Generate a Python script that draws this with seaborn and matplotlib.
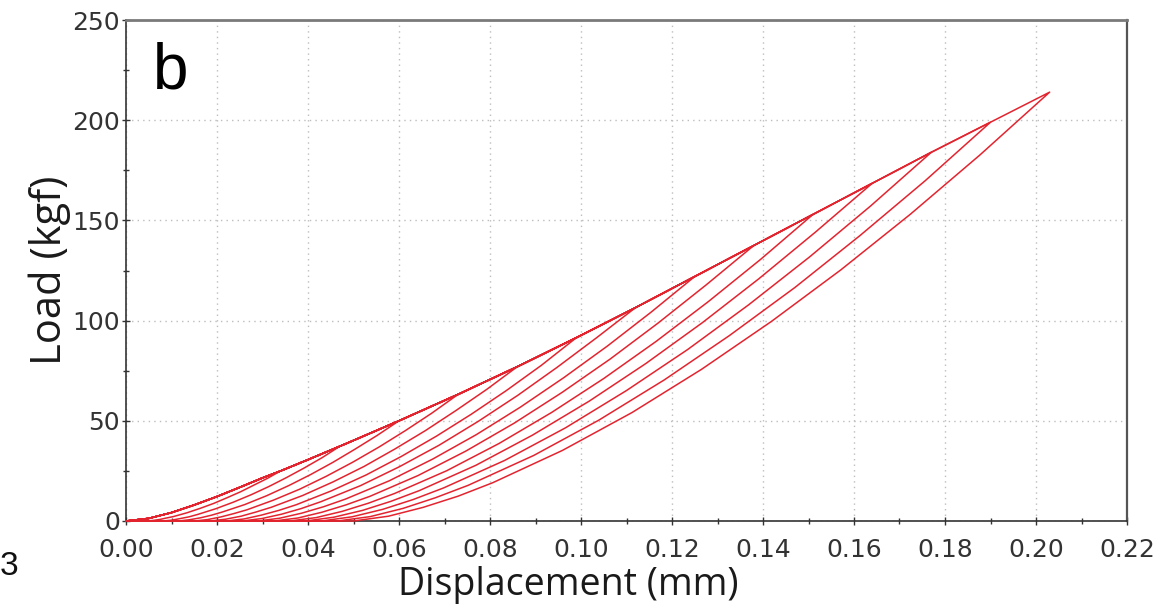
import matplotlib
matplotlib.use("Agg")
import matplotlib.pyplot as plt
from matplotlib.ticker import MultipleLocator, FormatStrFormatter
import pandas as pd
import seaborn as sns

# Loading envelope (displacement in mm, load in kgf)
envelope_disp = [0.0, 0.005, 0.01, 0.015, 0.02, 0.025, 0.03, 0.034, 0.04,
                 0.047, 0.05, 0.06, 0.073, 0.086, 0.099, 0.112, 0.125,
                 0.138, 0.151, 0.164, 0.177, 0.190, 0.203]
envelope_load = [0.0, 1.3, 4.2, 8.0, 12.2, 16.8, 21.5, 25.0, 30.6,
                 37.3, 40.2, 50.0, 63.2, 77.0, 91.5, 106.5, 122.0,
                 137.5, 153.0, 168.5, 184.0, 199.0, 214.0]

# Peak of each load cycle and the residual displacement after unloading
peak_disp = [0.203, 0.190, 0.177, 0.164, 0.151, 0.138, 0.125,
             0.112, 0.099, 0.086, 0.073, 0.060, 0.047, 0.034]
peak_load = [214.0, 199.0, 184.0, 168.5, 153.0, 137.5, 122.0,
             106.5, 91.5, 77.0, 63.2, 50.0, 37.3, 25.0]
residual_disp = [0.050, 0.0465, 0.043, 0.0395, 0.036, 0.0325, 0.029,
                 0.0255, 0.022, 0.0185, 0.015, 0.0115, 0.008, 0.0045]

# Unloading branches, listed from residual displacement up to the peak
unload_disp = [
    [0.050, 0.0577, 0.0653, 0.0730, 0.0806, 0.0959, 0.1112, 0.1265, 0.1418, 0.1571, 0.1724, 0.1877, 0.203],
    [0.0465, 0.0537, 0.0609, 0.0680, 0.0752, 0.0896, 0.1039, 0.1183, 0.1326, 0.1470, 0.1613, 0.1757, 0.190],
    [0.043, 0.0497, 0.0564, 0.0631, 0.0698, 0.0832, 0.0966, 0.110, 0.1234, 0.1368, 0.1502, 0.1636, 0.177],
    [0.0395, 0.0457, 0.0520, 0.0582, 0.0644, 0.0769, 0.0893, 0.1018, 0.1142, 0.1267, 0.1391, 0.1516, 0.164],
    [0.036, 0.0418, 0.0475, 0.0533, 0.059, 0.0705, 0.082, 0.0935, 0.105, 0.1165, 0.128, 0.1395, 0.151],
    [0.0325, 0.0378, 0.0431, 0.0483, 0.0536, 0.0642, 0.0747, 0.0853, 0.0958, 0.1064, 0.1169, 0.1275, 0.138],
    [0.029, 0.0338, 0.0386, 0.0434, 0.0482, 0.0578, 0.0674, 0.077, 0.0866, 0.0962, 0.1058, 0.1154, 0.125],
    [0.0255, 0.0298, 0.0342, 0.0385, 0.0428, 0.0515, 0.0601, 0.0688, 0.0774, 0.0861, 0.0947, 0.1034, 0.112],
    [0.022, 0.0259, 0.0297, 0.0336, 0.0374, 0.0451, 0.0528, 0.0605, 0.0682, 0.0759, 0.0836, 0.0913, 0.099],
    [0.0185, 0.0219, 0.0253, 0.0286, 0.032, 0.0388, 0.0455, 0.0523, 0.059, 0.0658, 0.0725, 0.0793, 0.086],
    [0.015, 0.0179, 0.0208, 0.0237, 0.0266, 0.0324, 0.0382, 0.044, 0.0498, 0.0556, 0.0614, 0.0672, 0.073],
    [0.0115, 0.0139, 0.0164, 0.0188, 0.0212, 0.0261, 0.0309, 0.0358, 0.0406, 0.0455, 0.0503, 0.0552, 0.060],
    [0.008, 0.0100, 0.0119, 0.0139, 0.0158, 0.0197, 0.0236, 0.0275, 0.0314, 0.0353, 0.0392, 0.0431, 0.047],
    [0.0045, 0.0060, 0.0075, 0.0089, 0.0104, 0.0134, 0.0163, 0.0193, 0.0222, 0.0252, 0.0281, 0.0311, 0.034],
]
unload_load = [
    [0, 2.4, 6.8, 12.4, 19.1, 35.2, 54.1, 75.7, 99.5, 125.3, 153.1, 182.7, 214.0],
    [0, 2.2, 6.3, 11.6, 17.8, 32.7, 50.3, 70.4, 92.5, 116.5, 142.4, 169.9, 199.0],
    [0, 2.1, 5.8, 10.7, 16.5, 30.2, 46.5, 65.1, 85.5, 107.8, 131.7, 157.1, 184.0],
    [0, 1.9, 5.3, 9.8, 15.1, 27.8, 42.8, 59.8, 78.5, 99.0, 120.9, 144.3, 168.5],
    [0, 1.7, 4.8, 8.9, 13.7, 25.1, 38.7, 54.1, 71.1, 89.6, 109.5, 130.6, 153.0],
    [0, 1.5, 4.4, 8.0, 12.3, 22.7, 34.9, 48.8, 64.1, 80.8, 98.7, 117.8, 137.5],
    [0, 1.4, 3.9, 7.1, 10.9, 20.0, 30.9, 43.1, 56.7, 71.5, 87.3, 104.2, 122.0],
    [0, 1.2, 3.4, 6.2, 9.6, 17.6, 27.1, 37.8, 49.7, 62.7, 76.6, 91.4, 106.5],
    [0, 1.0, 2.9, 5.3, 8.1, 15.0, 23.0, 32.2, 42.3, 53.3, 65.1, 77.7, 91.5],
    [0, 0.9, 2.4, 4.5, 6.9, 12.7, 19.5, 27.2, 35.8, 45.1, 55.1, 65.7, 77.0],
    [0, 0.7, 2.0, 3.7, 5.6, 10.4, 15.9, 22.3, 29.3, 36.9, 45.1, 53.8, 63.2],
    [0, 0.6, 1.6, 2.9, 4.5, 8.2, 12.6, 17.7, 23.2, 29.3, 35.8, 42.7, 50.0],
    [0, 0.4, 1.2, 2.1, 3.3, 6.1, 9.4, 13.1, 17.2, 21.7, 26.5, 31.6, 37.3],
    [0, 0.3, 0.8, 1.5, 2.2, 4.1, 6.3, 8.8, 11.6, 14.6, 17.9, 21.3, 25.0],
]

x_ticks = [0.00, 0.02, 0.04, 0.06, 0.08, 0.10, 0.12, 0.14, 0.16, 0.18, 0.20, 0.22]
y_ticks = [0, 50, 100, 150, 200, 250]

# Assemble every cycle: load along the envelope, unload, return at zero load
rows = []
for c, (pd_, rd) in enumerate(zip(peak_disp, residual_disp)):
    seq = 0
    for d, p in zip(envelope_disp, envelope_load):
        if d <= pd_ + 1e-9:
            rows.append((c, seq, d, p)); seq += 1
    for d, p in zip(reversed(unload_disp[c]), reversed(unload_load[c])):
        rows.append((c, seq, d, p)); seq += 1
    rows.append((c, seq, 0.0, 0.0))
df = pd.DataFrame(rows, columns=["cycle", "order", "disp", "load"])

sns.set_theme(style="white")
plt.rcParams["font.family"] = ["DejaVu Sans"]

fig = plt.figure(figsize=(11.74, 6.12), dpi=100)
ax = fig.add_axes([126 / 1174, 1 - 521 / 612, 1001 / 1174, 501 / 612])

sns.lineplot(data=df, x="disp", y="load", units="cycle", estimator=None,
             sort=False, color="#e3242f", linewidth=1.1, ax=ax,
             legend=False, zorder=5)
for ln in ax.lines:
    ln.set_clip_on(False)

ax.set_xlim(0, 0.22)
ax.set_ylim(0, 250)
ax.set_xticks(x_ticks)
ax.set_yticks(y_ticks)
ax.xaxis.set_major_formatter(FormatStrFormatter("%.2f"))
ax.xaxis.set_minor_locator(MultipleLocator(0.01))
ax.yaxis.set_minor_locator(MultipleLocator(25))

ax.grid(True, which="major", color="#bdbdbd", linestyle=(0, (1, 3)), linewidth=1.0)
ax.set_axisbelow(True)

ax.tick_params(which="major", direction="inout", length=6, width=1.0,
               color="#333333", labelsize=18, labelcolor="#333333",
               bottom=True, left=True)
ax.tick_params(axis="x", which="major", pad=9)
ax.tick_params(axis="y", which="major", pad=1.5)
ax.tick_params(which="minor", direction="inout", length=5, width=1.0,
               color="#333333", bottom=True, left=True)

for side in ["left", "bottom"]:
    ax.spines[side].set_color("#333333")
    ax.spines[side].set_linewidth(1.2)
ax.spines["top"].set_color("#7a7a7a")
ax.spines["top"].set_linewidth(2.0)
ax.spines["right"].set_color("#555555")
ax.spines["right"].set_linewidth(1.6)

label_font = ["Open Sans", "DejaVu Sans"]
ax.set_xlabel("Displacement (mm)", fontsize=27, family=label_font,
              color="#1a1a1a")
ax.set_ylabel("Load (kgf)", fontsize=30, family=label_font,
              color="#1a1a1a")
ax.xaxis.label.set_va("center")
ax.yaxis.label.set_va("center")
ax.xaxis.set_label_coords((568 - 126) / 1001, (521 - 585) / 501)
ax.yaxis.set_label_coords((50 - 126) / 1001, 0.5)

ax.text(0.027, 0.864, "b", transform=ax.transAxes, fontsize=46,
        family=["Liberation Sans", "DejaVu Sans"], color="black",
        ha="left", va="baseline")
fig.text(0.0, 1 - 575 / 612, "3", fontsize=24,
         family=["Liberation Sans", "DejaVu Sans"], color="#111111",
         ha="left", va="baseline")

fig.savefig("out.png", dpi=100)
